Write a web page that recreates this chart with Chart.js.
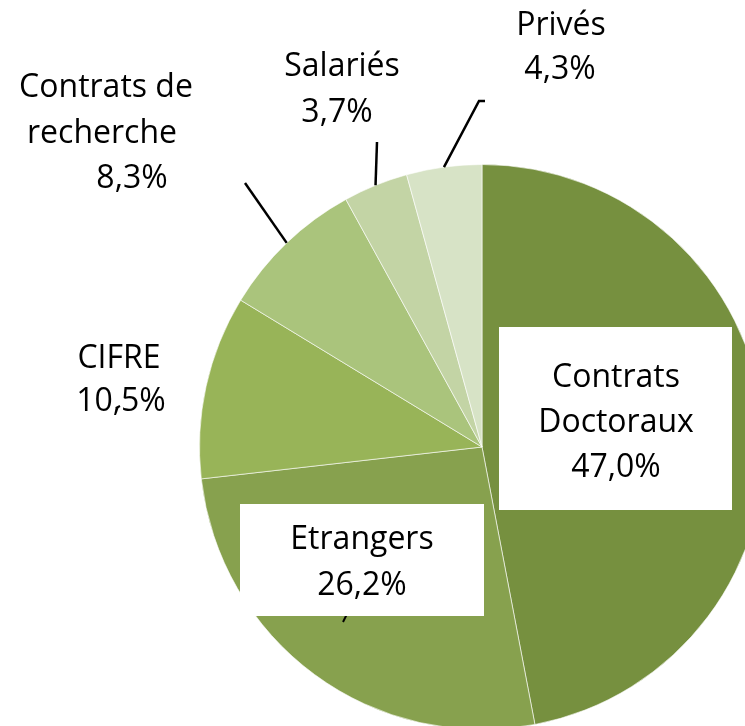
<!DOCTYPE html>
<html>
<head>
<meta charset="utf-8">
<script src="https://cdn.jsdelivr.net/npm/chart.js@4"></script>
<style>
  html, body { margin: 0; padding: 0; background: #fff; overflow: hidden; }
  #wrap { width: 745px; height: 726px; overflow: hidden; }
</style>
</head>
<body>
<div id="wrap"><canvas id="pieChart" width="964" height="740"></canvas></div>
<script>
// Données du graphique
const categories = ["Contrats Doctoraux", "Etrangers", "CIFRE", "Contrats de recherche", "Salariés", "Privés"];
const shares = [47.0, 26.2, 10.5, 8.3, 3.7, 4.3];
const labelLines = [["Contrats", "Doctoraux"], ["Etrangers"], ["CIFRE"], ["Contrats de", "recherche"], ["Salariés"], ["Privés"]];

const colors = ["#76903f", "#87a14e", "#98b458", "#aac47c", "#c3d4a5", "#d7e3c6"];

// Position des étiquettes (x centre, lignes de base), cadre blanc éventuel, fin du trait de rappel
const labelLayout = [
  { xs: [616, 616, 616], ys: [387, 432, 477], box: [499, 327, 233, 183] },
  { xs: [362, 362], ys: [549, 595], box: [240, 504, 244, 112], dash: [[343, 622], [347, 614]] },
  { xs: [119, 121], ys: [368, 411], dash: [[116, 408], [120, 406]] },
  { xs: [106, 102, 132], ys: [97, 143, 188], lead: [245, 183] },
  { xs: [342, 337], ys: [76, 122], lead: [377, 142] },
  { xs: [561, 560], ys: [35, 79], lead: [479, 101], hook: 6 },
];

function pct(v) {
  return v.toFixed(1).replace(".", ",") + "%";
}

// Plugin pour dessiner les étiquettes comme dans Excel
const etiquettes = {
  id: "etiquettes",
  afterDatasetsDraw(chart) {
    const ctx = chart.ctx;
    const meta = chart.getDatasetMeta(0);
    ctx.save();
    meta.data.forEach((arc, i) => {
      const p = arc.getProps(["x", "y", "startAngle", "endAngle", "outerRadius"], true);
      const lay = labelLayout[i];
      const mid = (p.startAngle + p.endAngle) / 2;
      if (lay.lead) {
        const ex = p.x + Math.cos(mid) * p.outerRadius;
        const ey = p.y + Math.sin(mid) * p.outerRadius;
        ctx.strokeStyle = "#000";
        ctx.lineWidth = 2.5;
        ctx.beginPath();
        ctx.moveTo(ex, ey);
        ctx.lineTo(lay.lead[0], lay.lead[1]);
        if (lay.hook) ctx.lineTo(lay.lead[0] + lay.hook, lay.lead[1]);
        ctx.stroke();
      }
      if (lay.dash) {
        ctx.strokeStyle = "#000";
        ctx.lineWidth = 2;
        ctx.beginPath();
        ctx.moveTo(lay.dash[0][0], lay.dash[0][1]);
        ctx.lineTo(lay.dash[1][0], lay.dash[1][1]);
        ctx.stroke();
      }
      if (lay.box) {
        ctx.fillStyle = "#fff";
        ctx.fillRect(lay.box[0], lay.box[1], lay.box[2], lay.box[3]);
      }
      const texts = labelLines[i].concat([pct(shares[i])]);
      ctx.fillStyle = "#000";
      ctx.font = '32px "Open Sans", sans-serif';
      ctx.textAlign = "center";
      ctx.textBaseline = "alphabetic";
      texts.forEach((t, k) => ctx.fillText(t, lay.xs[k], lay.ys[k]));
    });
    ctx.restore();
  },
};

new Chart(document.getElementById("pieChart"), {
  type: "pie",
  data: {
    labels: categories,
    datasets: [
      {
        data: shares,
        backgroundColor: colors,
        borderColor: "rgba(255,255,255,0.6)",
        borderWidth: 1,
      },
    ],
  },
  options: {
    responsive: false,
    animation: false,
    layout: { padding: { top: 164, left: 199, right: 199, bottom: 10 } },
    plugins: {
      legend: { display: false },
      tooltip: { enabled: false },
    },
  },
  plugins: [etiquettes],
});
</script>
</body>
</html>
